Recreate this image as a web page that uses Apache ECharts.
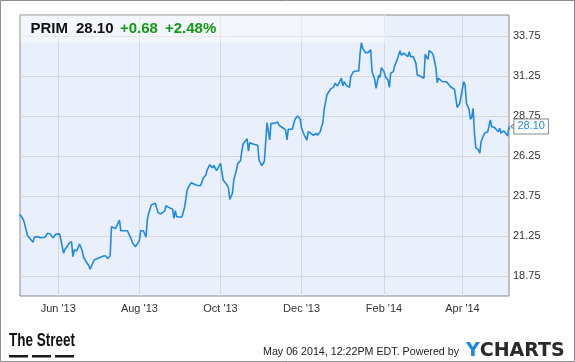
<!DOCTYPE html>
<html><head><meta charset="utf-8">
<script src="https://cdn.jsdelivr.net/npm/echarts@6/dist/echarts.min.js"></script>
<style>html,body{margin:0;padding:0;background:#fff}#c{width:575px;height:362px}</style>
</head><body><div id="c"></div>
<script>
const ticker = 'PRIM';
const lastPrice = '28.10';
const change = '+0.68';
const changePct = '+2.48%';
const footerText = 'May 06 2014, 12:22PM EDT. Powered by';

const dates = [
'2013-05-03','2013-05-05','2013-05-06','2013-05-07','2013-05-09','2013-05-10','2013-05-11','2013-05-13','2013-05-14','2013-05-16',
'2013-05-17','2013-05-19','2013-05-20','2013-05-22','2013-05-23','2013-05-24','2013-05-26','2013-05-27','2013-05-28','2013-05-30',
'2013-05-31','2013-06-02','2013-06-03','2013-06-05','2013-06-06','2013-06-08','2013-06-09','2013-06-11','2013-06-12','2013-06-13',
'2013-06-15','2013-06-16','2013-06-17','2013-06-19','2013-06-20','2013-06-22','2013-06-24','2013-06-25','2013-06-26','2013-06-28',
'2013-06-30','2013-07-02','2013-07-05','2013-07-07','2013-07-08','2013-07-10','2013-07-11','2013-07-12','2013-07-14','2013-07-15',
'2013-07-17','2013-07-18','2013-07-20','2013-07-21','2013-07-23','2013-07-24','2013-07-26','2013-07-27','2013-07-29','2013-07-30',
'2013-08-01','2013-08-02','2013-08-04','2013-08-05','2013-08-06','2013-08-07','2013-08-08','2013-08-10','2013-08-11','2013-08-13',
'2013-08-14','2013-08-15','2013-08-17','2013-08-18','2013-08-20','2013-08-21','2013-08-23','2013-08-24','2013-08-26','2013-08-27',
'2013-08-28','2013-08-29','2013-08-31','2013-09-02','2013-09-03','2013-09-04','2013-09-05','2013-09-06','2013-09-07','2013-09-09',
'2013-09-10','2013-09-13','2013-09-16','2013-09-18','2013-09-20','2013-09-21','2013-09-23','2013-09-25','2013-09-26','2013-09-28',
'2013-09-29','2013-10-01','2013-10-03','2013-10-06','2013-10-07','2013-10-08','2013-10-10','2013-10-11','2013-10-13','2013-10-14',
'2013-10-16','2013-10-17','2013-10-18','2013-10-21','2013-10-22','2013-10-23','2013-10-24','2013-10-26','2013-10-29','2013-10-30',
'2013-11-01','2013-11-03','2013-11-04','2013-11-05','2013-11-07','2013-11-08','2013-11-09','2013-11-11','2013-11-13','2013-11-14',
'2013-11-17','2013-11-19','2013-11-20','2013-11-21','2013-11-24','2013-11-25','2013-11-26','2013-11-28','2013-11-30','2013-12-01',
'2013-12-03','2013-12-05','2013-12-06','2013-12-08','2013-12-09','2013-12-10','2013-12-12','2013-12-13','2013-12-15','2013-12-16',
'2013-12-17','2013-12-18','2013-12-19','2013-12-20','2013-12-22','2013-12-23','2013-12-25','2013-12-26','2013-12-28','2013-12-29',
'2013-12-31','2014-01-01','2014-01-02','2014-01-03','2014-01-04','2014-01-06','2014-01-07','2014-01-09','2014-01-10','2014-01-11',
'2014-01-13','2014-01-14','2014-01-15','2014-01-16','2014-01-18','2014-01-20','2014-01-22','2014-01-23','2014-01-25','2014-01-26',
'2014-01-28','2014-01-29','2014-01-30','2014-02-01','2014-02-02','2014-02-04','2014-02-05','2014-02-06','2014-02-08','2014-02-09',
'2014-02-11','2014-02-13','2014-02-14','2014-02-16','2014-02-17','2014-02-19','2014-02-20','2014-02-21','2014-02-23','2014-02-25',
'2014-02-26','2014-02-28','2014-03-01','2014-03-03','2014-03-04','2014-03-05','2014-03-06','2014-03-07','2014-03-09','2014-03-10',
'2014-03-12','2014-03-13','2014-03-14','2014-03-15','2014-03-17','2014-03-18','2014-03-20','2014-03-21','2014-03-23','2014-03-24',
'2014-03-26','2014-03-27','2014-03-28','2014-03-30','2014-03-31','2014-04-01','2014-04-02','2014-04-03','2014-04-04','2014-04-06',
'2014-04-07','2014-04-08','2014-04-09','2014-04-10','2014-04-11','2014-04-13','2014-04-14','2014-04-15','2014-04-17','2014-04-18',
'2014-04-20','2014-04-21','2014-04-22','2014-04-23','2014-04-25','2014-04-26','2014-04-28','2014-04-29','2014-04-30','2014-05-02',
'2014-05-03','2014-05-05','2014-05-06'
];
const prices = [
22.61,22.38,22.21,22.25,21.25,21.17,21.06,20.86,21.17,21.21,
21.29,21.14,21.04,21.17,21.14,21.42,21.38,21.42,21.13,21.36,
21.36,21.38,21.38,20.17,20.42,20.63,20.79,20.89,19.96,20.38,
20.33,20.33,20.75,20.33,19.92,19.64,19.39,19.17,19.39,19.75,
19.83,19.89,20.00,20.00,19.83,20.00,21.83,21.75,21.71,21.71,
22.25,21.58,21.58,21.54,21.58,21.63,21.04,20.79,20.58,20.67,
20.96,21.58,21.58,21.52,21.17,22.29,22.67,23.19,23.25,23.29,
23.21,22.71,22.63,22.54,22.81,23.14,23.04,23.04,22.92,22.36,
22.83,22.46,22.44,22.44,22.42,23.04,23.08,24.13,24.33,24.58,
24.48,24.42,24.39,24.86,25.06,25.38,25.71,25.50,25.67,25.33,
25.48,25.79,24.75,24.44,24.23,23.54,23.92,24.75,25.38,25.79,
25.94,26.52,27.00,27.33,26.56,27.08,27.08,26.98,26.92,26.00,
25.64,25.92,26.04,28.33,27.25,28.29,28.39,28.29,28.38,28.17,
28.00,27.88,27.25,27.92,27.92,27.88,28.54,28.75,28.54,27.98,
27.56,27.25,27.77,27.67,27.71,27.54,27.67,27.54,27.77,28.08,
28.33,29.17,29.13,30.06,30.33,30.46,30.54,30.79,30.63,30.58,
31.11,30.63,30.89,30.83,30.63,30.54,31.21,31.52,31.63,31.56,
31.56,32.67,33.33,32.98,32.71,32.71,32.88,31.52,31.04,30.48,
31.31,31.17,31.77,31.52,31.21,31.00,30.54,31.42,31.52,31.88,
32.29,32.83,32.56,32.67,32.77,32.46,32.77,32.46,32.46,32.04,
31.31,31.25,31.25,31.11,32.63,32.42,32.29,32.83,32.71,32.56,
31.79,30.83,31.11,31.00,30.89,31.00,30.89,30.89,30.58,30.48,
30.42,29.86,29.29,29.54,30.00,30.48,30.89,30.69,29.54,29.13,
28.54,28.67,29.23,27.67,26.79,26.63,26.42,27.14,27.56,27.71,
27.77,27.77,28.50,28.08,28.04,27.96,27.77,27.98,27.67,27.83,
27.77,27.50,28.10
];
const yTicks = [18.75, 21.25, 23.75, 26.25, 28.75, 31.25, 33.75];
const xTickDates = ['2013-06-01','2013-08-01','2013-10-01','2013-12-01','2014-02-01','2014-04-01'];
const xTickLabels = ["Jun '13","Aug '13","Oct '13","Dec '13","Feb '14","Apr '14"];

function toTs(s){const p=s.split('-');return new Date(+p[0],+p[1]-1,+p[2]).getTime();}
const xTickTs = xTickDates.map(toTs);
const seriesData = dates.map((d,i)=>[toTs(d), prices[i]]);
const last = seriesData[seriesData.length-1];
const FONT = '"Liberation Sans", Arial, sans-serif';

const chart = echarts.init(document.getElementById('c'), null, {renderer:'canvas'});
chart.setOption({
  animation:false,
  textStyle:{fontFamily:FONT},
  grid:{left:20,right:66,top:15,bottom:66,show:true,backgroundColor:'#eaf0fb',borderColor:'#8a8a8a',borderWidth:1},
  xAxis:{
    type:'value',
    min:new Date(2013,4,3,5).getTime(),
    max:toTs('2014-05-06'),
    axisLine:{show:false},
    axisTick:{show:false, customValues:xTickTs},
    axisLabel:{customValues:xTickTs, color:'#333', fontSize:11, margin:7, fontFamily:FONT,
      formatter:function(v){const i=xTickTs.findIndex(t=>Math.abs(t-v)<7200000);return i>=0?xTickLabels[i]:'';}},
    splitLine:{show:true,lineStyle:{color:'#d6d6d6',width:1}}
  },
  yAxis:{
    type:'value',position:'right',min:17.5,max:35.0625,
    axisLine:{show:false},
    axisTick:{show:false, customValues:yTicks},
    axisLabel:{customValues:yTicks, color:'#333', fontSize:11, margin:4, fontFamily:FONT,
      formatter:function(v){return v.toFixed(2);}},
    splitLine:{show:true,lineStyle:{color:'#d6d6d6',width:1}}
  },
  series:[{
    type:'line',data:seriesData,showSymbol:false,
    lineStyle:{color:'#1f8ae6',width:1.6},
    markPoint:{
      symbol:'path://M6,0 L0,5 L6,10',
      symbolSize:[4,7],
      symbolOffset:[4,0],
      itemStyle:{color:'rgba(0,0,0,0)',borderColor:'#888',borderWidth:1},
      label:{show:true,position:'right',distance:-1,formatter:lastPrice,color:'#1f8ae6',fontSize:11,fontFamily:FONT,
        backgroundColor:'#fff',borderColor:'#888',borderWidth:1,padding:[2,3,1,3]},
      data:[{coord:last,value:last[1]}]
    }
  }],
  graphic:[
    {type:'rect',z:50,silent:true,shape:{x:20.5,y:15.5,width:365,height:27},style:{fill:'rgba(255,255,255,0.45)'}},
    {type:'text',z:51,x:30.5,y:29,style:{text:ticker,font:'bold 15px '+FONT,fill:'#111',verticalAlign:'middle'}},
    {type:'text',z:51,x:76,y:29,style:{text:lastPrice,font:'bold 15px '+FONT,fill:'#111',verticalAlign:'middle'}},
    {type:'text',z:51,x:120,y:29,style:{text:change,font:'bold 15px '+FONT,fill:'#129a12',verticalAlign:'middle'}},
    {type:'text',z:51,x:165,y:29,style:{text:changePct,font:'bold 15px '+FONT,fill:'#129a12',verticalAlign:'middle'}},
    {type:'text',z:51,x:9,y:341,scaleX:0.71,style:{text:'The Street',font:'bold 19px "Liberation Sans Narrow", '+FONT,fill:'#111',verticalAlign:'middle'}},
    {type:'rect',z:51,shape:{x:9,y:355,width:19,height:2.5},style:{fill:'#1a1a1a'}},
    {type:'rect',z:51,shape:{x:32,y:355,width:19,height:2.5},style:{fill:'#1a1a1a'}},
    {type:'rect',z:51,shape:{x:55,y:355,width:19,height:2.5},style:{fill:'#1a1a1a'}},
    {type:'text',z:51,x:263,y:352,style:{text:footerText,font:'10.7px '+FONT,fill:'#222',verticalAlign:'middle'}},
    {type:'text',z:51,x:466,y:351,style:{text:'{y|Y}{c|CHARTS}',verticalAlign:'middle',
      rich:{y:{fill:'#1c8ade',font:'bold 19px "DejaVu Sans", sans-serif'},c:{fill:'#2a2a2a',font:'bold 19px "DejaVu Sans", sans-serif'}}}},
    {type:'rect',z:60,silent:true,shape:{x:0.5,y:0.5,width:574,height:361},style:{fill:'none',stroke:'#8c8c8c',lineWidth:1}}
  ]
});
</script></body></html>
